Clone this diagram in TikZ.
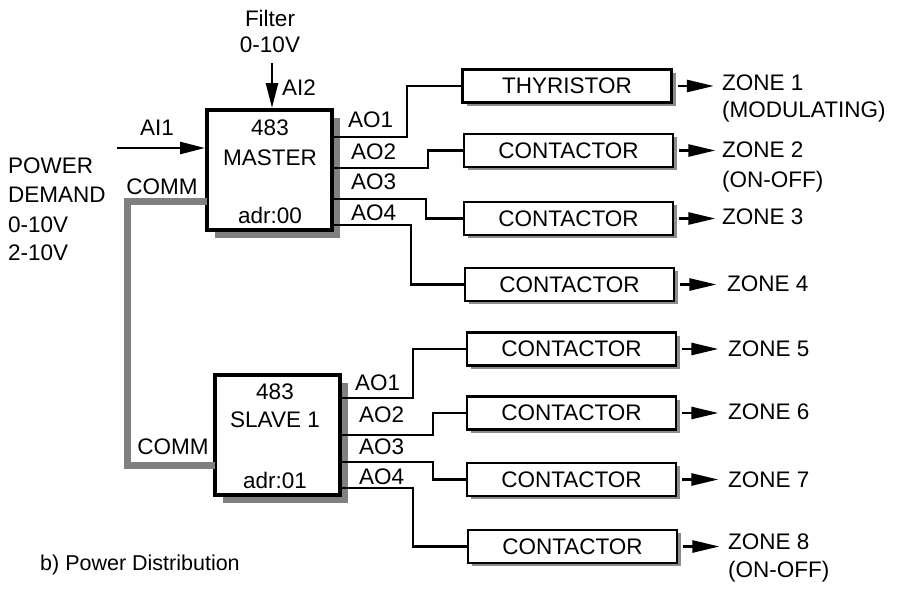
\documentclass[tikz,border=0pt]{standalone}
\usepackage{fontspec}
\setmainfont{Liberation Sans}
\usetikzlibrary{arrows.meta,shadows}
\begin{document}
\begin{tikzpicture}[x=1pt,y=-1pt,
  every node/.style={font=\fontsize{22.5}{26}\selectfont, inner sep=0pt},
  ctrl/.style={draw, line width=4pt, fill=white, minimum width=125pt, minimum height=120pt,
    drop shadow={shadow xshift=8pt, shadow yshift=-8pt, fill=black!50, opacity=1}},
  outbox/.style={draw, line width=2.8pt, fill=white, minimum width=209pt, minimum height=33pt,
    drop shadow={shadow xshift=4pt, shadow yshift=-3pt, fill=black!45, opacity=1}},
  wire/.style={line width=2.6pt},
  comm/.style={line width=7pt, draw=black!50},
  inarrow/.style={line width=2.6pt, -{Triangle[length=25pt,width=12pt]}},
  zarrow/.style={line width=2.6pt, -{Triangle[length=27pt,width=12pt]}},
  lbl/.style={anchor=west}]
\useasboundingbox (0,0) rectangle (898,590);

% controllers
\node[ctrl] (m) at (269.5,170) {};
\node[ctrl] (s) at (277.5,435) {};
\node (m1) at (270,128) {483};
\node (m2) at (270,158) {MASTER};
\node (m3) at (270,215) {adr:00};
\node (s1) at (275,392) {483};
\node (s2) at (275,420) {SLAVE 1};
\node (s3) at (275,480) {adr:01};

% output boxes
\node[outbox] (thy) at (567,86) {THYRISTOR};
\node[outbox] (c1) at (568.5,150.5) {CONTACTOR};
\node[outbox] (c2) at (568.5,218.5) {CONTACTOR};
\node[outbox] (c3) at (569.5,284.5) {CONTACTOR};
\node[outbox] (c5) at (571.5,349) {CONTACTOR};
\node[outbox] (c6) at (571.5,413) {CONTACTOR};
\node[outbox] (c7) at (571.5,479.5) {CONTACTOR};
\node[outbox] (c8) at (572.5,546.5) {CONTACTOR};

% inputs
\node (filt) at (270,18) {Filter};
\node (filtv) at (270,45) {0-10V};
\coordinate (ai2s) at (272,63);
\draw[inarrow] (ai2s) -- (m.north -| ai2s);
\node[lbl] (ai2) at (282,88) {AI2};
\coordinate (ai1s) at (117,148);
\draw[inarrow] (ai1s) -- (m.west |- ai1s);
\node (ai1) at (157,128) {AI1};

\node[lbl] (pw1) at (8,166) {POWER};
\node[lbl] (pw2) at (8,195) {DEMAND};
\node[lbl] (pw3) at (8,225) {0-10V};
\node[lbl] (pw4) at (8,253) {2-10V};

% comm bus
\coordinate (cm) at (207,201);
\coordinate (cb) at (127,465);
\coordinate (cs) at (215,465);
\draw[comm] (cm) -| (cb) -- (cs);
\node (comm1) at (162,187) {COMM};
\node (comm2) at (173,447) {COMM};

% master outputs
\coordinate (mo1) at (332,137);
\coordinate (mo2) at (332,168);
\coordinate (mo3) at (332,199);
\coordinate (mo4) at (332,225);
\draw[wire] (mo1) -- ++(75,0) |- (thy.west);
\draw[wire] (mo2) -- ++(96,0) |- (c1.west);
\draw[wire] (mo3) -- ++(94,0) |- (c2.west);
\draw[wire] (mo4) -- ++(79,0) |- (c3.west);
\node[lbl] (mao1) at (348,120) {AO1};
\node[lbl] (mao2) at (351,152) {AO2};
\node[lbl] (mao3) at (351,182) {AO3};
\node[lbl] (mao4) at (351,213) {AO4};

% slave outputs
\coordinate (so1) at (340,398);
\coordinate (so2) at (340,435);
\coordinate (so3) at (340,462);
\coordinate (so4) at (340,488);
\draw[wire] (so1) -- ++(73,0) |- (c5.west);
\draw[wire] (so2) -- ++(93,0) |- (c6.west);
\draw[wire] (so3) -- ++(93,0) |- (c7.west);
\draw[wire] (so4) -- ++(73,0) |- (c8.west);
\node[lbl] (sao1) at (355,383) {AO1};
\node[lbl] (sao2) at (359,415) {AO2};
\node[lbl] (sao3) at (359,447) {AO3};
\node[lbl] (sao4) at (359,477) {AO4};

% zone arrows and labels
\foreach \b in {thy,c1,c2,c3,c5,c6,c7,c8}{
  \draw[zarrow] ([xshift=5pt]\b.east) -- ++(36,0);
}
\node[lbl] (z1) at (722,83) {ZONE 1};
\node[lbl] (z1b) at (722,112) {(MODULATING)};
\node[lbl] (z2) at (722,150) {ZONE 2};
\node[lbl] (z2b) at (722,182) {(ON-OFF)};
\node[lbl] (z3) at (722,217) {ZONE 3};
\node[lbl] (z4) at (727,284) {ZONE 4};
\node[lbl] (z5) at (728,349) {ZONE 5};
\node[lbl] (z6) at (728,412) {ZONE 6};
\node[lbl] (z7) at (728,480) {ZONE 7};
\node[lbl] (z8) at (728,542) {ZONE 8};
\node[lbl] (z8b) at (728,572) {(ON-OFF)};

\node[lbl, font=\fontsize{21.5}{25}\selectfont] (cap) at (40,565) {b) Power Distribution};
\end{tikzpicture}
\end{document}
